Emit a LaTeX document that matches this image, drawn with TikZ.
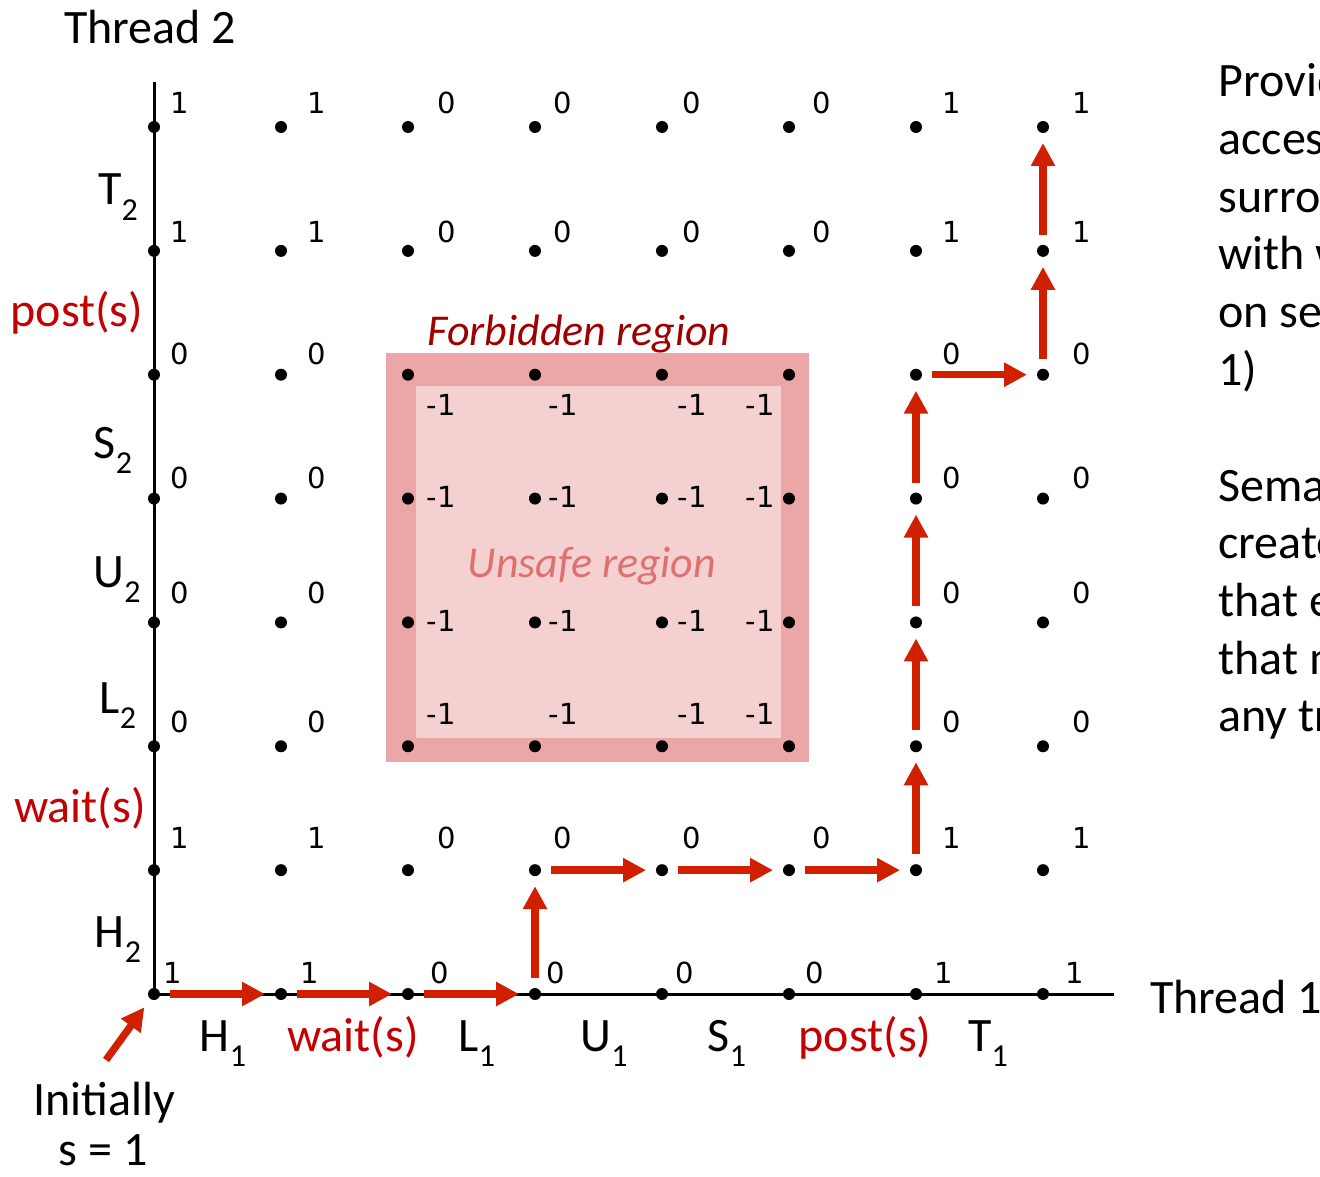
\documentclass[tikz,border=0pt]{standalone}
\usepackage{fontspec}
\setmainfont{Carlito}
\newfontfamily\numfont{DejaVu Sans}
\usetikzlibrary{arrows.meta}
\definecolor{arrowred}{RGB}{208,32,0}
\definecolor{labred}{RGB}{196,0,0}
\definecolor{forbred}{RGB}{158,0,0}
\definecolor{unsafered}{RGB}{222,112,112}
\definecolor{outerpink}{RGB}{235,167,167}
\definecolor{innerpink}{RGB}{244,208,208}
\newcommand{\subs}[1]{\raisebox{-0.32em}{\fontsize{16}{16}\selectfont #1}}
\begin{document}
\begin{tikzpicture}[x=0.5pt,y=-0.5pt,
  dot/.style={circle,fill=black,inner sep=0pt,minimum size=6pt},
  num/.style={font=\numfont\fontsize{14.5}{17}\selectfont,inner sep=0pt},
  lab/.style={font=\fontsize{24}{28}\selectfont,inner sep=0pt,anchor=base},
  redlab/.style={lab,text=labred},
  sidetext/.style={font=\fontsize{24}{28}\selectfont,inner sep=0pt,anchor=base west},
  axis/.style={line width=1.5pt},
  trajarrow/.style={draw=arrowred,line width=3.7pt,
    -{Triangle[length=11.5pt,width=11.5pt]},shorten <=8pt,shorten >=8pt}]
\useasboundingbox (0,0) rectangle (1320,1176);
% regions
\fill[outerpink] (386,353) rectangle (809,762);
\fill[innerpink] (416,386) rectangle (781,738);
\node[font=\itshape\fontsize{22}{26}\selectfont,text=forbred,inner sep=0pt,anchor=base] (forb) at (579,345) {Forbidden region};
\node[font=\itshape\fontsize{22}{26}\selectfont,text=unsafered,inner sep=0pt,anchor=base] (unsafe) at (592,577) {Unsafe region};
% axes
\coordinate (ytop) at (154,82);
\coordinate (xend) at (1114,994);
\coordinate (orig) at (154,994);
\draw[axis] (ytop) -- (orig) -- (xend);
% dots
\foreach \i in {0,...,7}{
  \foreach \j in {0,...,7}{
    \node[dot] (p-\i-\j) at ({154+127*\i},{994-123.857*\j}) {};
  }
}
% bottom-row values
\foreach \i/\x/\v in {0/173/1,1/310/1,2/440/0,3/556/0,4/685/0,5/815/0,6/944/1,7/1075/1}
  \node[num] (v-\i-0) at (\x,973) {\v};
% other rows, full
\foreach \j/\y/\a/\b/\c in {1/838/1/0/1,6/232/1/0/1,7/103/1/0/1}{
  \foreach \i/\x/\v in {0/180/\a,1/317/\a,2/447/\b,3/563/\b,4/692/\b,5/822/\b,6/952/\c,7/1082/\c}
    \node[num] (v-\i-\j) at (\x,\y) {\v};
}
% rows crossing the forbidden region
\foreach \j/\y in {2/722,3/593,4/478,5/354}{
  \foreach \i/\x in {0/180,1/317,6/952,7/1082}
    \node[num] (v-\i-\j) at (\x,\y) {0};
}
\foreach \j/\y in {5/405,4/497,3/621,2/714}{
  \foreach \i/\x in {2/441,3/563,4/692,5/760}
    \node[num] (v-\i-\j) at (\x,\y) {-1};
}
% axis labels
\node[lab] (t2) at (150,44) {Thread 2};
\node[lab] (T2) at (118,205) {T\subs{2}};
\node[redlab] (post2) at (77,326) {post(s)};
\node[lab] (S2) at (113,458) {S\subs{2}};
\node[lab] (U2) at (117,587) {U\subs{2}};
\node[lab] (L2) at (118,713) {L\subs{2}};
\node[redlab] (wait2) at (80,822) {wait(s)};
\node[lab] (H2) at (118,947) {H\subs{2}};
\node[lab] (H1) at (223,1051) {H\subs{1}};
\node[redlab] (wait1) at (353,1051) {wait(s)};
\node[lab] (L1) at (477,1051) {L\subs{1}};
\node[lab] (U1) at (604,1051) {U\subs{1}};
\node[lab] (S1) at (727,1051) {S\subs{1}};
\node[redlab] (post1) at (865,1051) {post(s)};
\node[lab] (T1) at (988,1051) {T\subs{1}};
\node[lab] (t1) at (1236,1013) {Thread 1};
\node[lab] (init) at (104,1115) {Initially};
\node[lab] (sinit) at (103,1165) {s = 1};
% trajectory
\coordinate (initstart) at (106,1060);
\draw[trajarrow,shorten <=0pt,shorten >=5pt] (initstart) -- (p-0-0);
\foreach \a/\b in {p-0-0/p-1-0,p-1-0/p-2-0,p-2-0/p-3-0,p-3-0/p-3-1,p-3-1/p-4-1,
  p-4-1/p-5-1,p-5-1/p-6-1,p-6-1/p-6-2,p-6-2/p-6-3,p-6-3/p-6-4,p-6-4/p-6-5,
  p-6-5/p-7-5,p-7-5/p-7-6,p-7-6/p-7-7}
  \draw[trajarrow] (\a.center) -- (\b.center);
% side text (runs off the right edge, as in the reference)
\begin{scope}
\clip (0,0) rectangle (1320,1176);
\foreach \k/\y/\t in {1/97/Provide mutually exclusive,2/155/access to shared variable by,
  3/213/surrounding critical section,4/270/with wait and post operations,
  5/328/on semaphore s (initially set to,6/385/1),7/501/Semaphore invariant,
  8/558/creates a forbidden region,9/616/that encloses unsafe region,
  10/674/that must not be entered by,11/731/any trajectory}
  \node[sidetext] (side-\k) at (1218,\y) {\t};
\end{scope}
\end{tikzpicture}
\end{document}
